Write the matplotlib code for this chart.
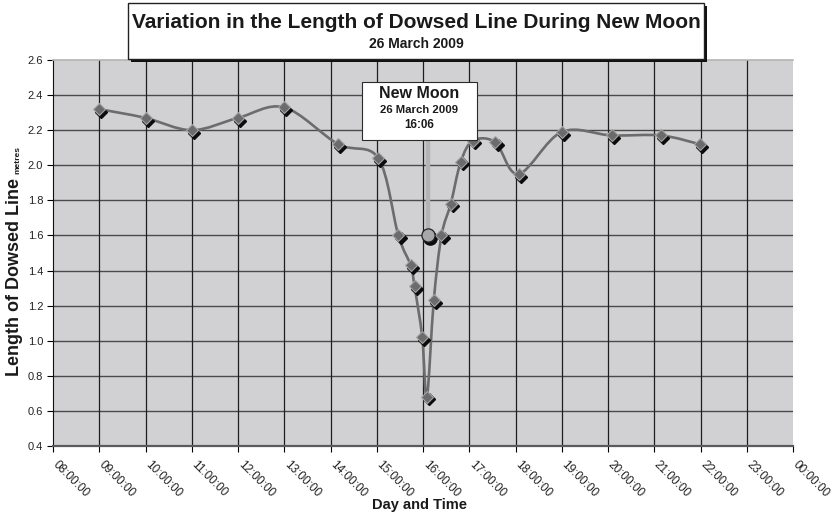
import matplotlib

matplotlib.use("Agg")
import matplotlib.pyplot as plt  # noqa: E402
import matplotlib.transforms as mtransforms  # noqa: E402
import numpy as np  # noqa: E402
from matplotlib.patches import PathPatch, Rectangle  # noqa: E402
from matplotlib.path import Path  # noqa: E402

plt.rcParams["font.family"] = ["Liberation Sans", "DejaVu Sans"]

# Dowsed line length readings through the day (clock time, metres)
times = ["09:00", "10:00", "11:00", "12:00", "13:00", "14:10", "15:02", "15:28",
         "15:44", "15:49", "15:59", "16:05", "16:14", "16:24", "16:36", "16:49",
         "17:05", "17:34", "18:04", "19:00", "20:05", "21:09", "21:59"]
lengths = [2.32, 2.27, 2.20, 2.27, 2.33, 2.12, 2.04, 1.60,
           1.43, 1.31, 1.02, 0.68, 1.23, 1.60, 1.78, 2.02,
           2.14, 2.13, 1.95, 2.19, 2.17, 2.17, 2.12]

new_moon_time = "16:06"
new_moon_level = 1.6

hour_ticks = list(range(8, 25))
hour_labels = [f"{h % 24:02d}:00:00" for h in hour_ticks]
y_ticks = [0.4, 0.6, 0.8, 1.0, 1.2, 1.4, 1.6, 1.8, 2.0, 2.2, 2.4, 2.6]


def to_hours(t):
    h, m = t.split(":")
    return int(h) + int(m) / 60.0


def smooth_path(x, y):
    """Catmull-Rom style Bezier path through the points (spreadsheet 'smoothed line')."""
    pts = np.column_stack([x, y])
    verts = [pts[0]]
    codes = [Path.MOVETO]
    n = len(pts)
    for i in range(n - 1):
        p0 = pts[max(i - 1, 0)]
        p1 = pts[i]
        p2 = pts[i + 1]
        p3 = pts[min(i + 2, n - 1)]
        c1 = p1 + (p2 - p0) / 6.0
        c2 = p2 - (p3 - p1) / 6.0
        verts += [c1, c2, p2]
        codes += [Path.CURVE4] * 3
    return Path(verts, codes)


W, H = 835, 514
fig = plt.figure(figsize=(W / 100, H / 100), dpi=100)
ax = fig.add_axes([53 / W, 1 - 446 / H, (793 - 53) / W, (446 - 60) / H])
ax.set_facecolor("#d1d1d3")

ax.set_xlim(8, 24)
ax.set_ylim(0.4, 2.6)
ax.set_xticks(hour_ticks)
ax.set_xticklabels([])
# slanted hour labels hang just right of each tick
label_tr = ax.get_xaxis_transform() + mtransforms.ScaledTranslation(
    6 / 100, -13 / 100, fig.dpi_scale_trans)
for h, lab in zip(hour_ticks, hour_labels):
    ax.text(h, 0, lab, transform=label_tr, rotation=-45, rotation_mode="anchor",
            ha="left", va="top", fontsize=8.5, color="#222222", clip_on=False)
ax.set_yticks(y_ticks)
ax.set_yticklabels([f"{v:.1f}" for v in y_ticks], fontsize=8, color="#222222")
ax.tick_params(axis="x", length=4, width=0.8, direction="out")
ax.tick_params(axis="y", length=4, width=0.8, pad=3, direction="out")

for v in y_ticks[1:-1]:
    ax.axhline(v, color="#4a4a4a", lw=1.0, zorder=1)
for h in hour_ticks[1:-1]:
    ax.axvline(h, color="#1e1e1e", lw=0.9, zorder=1)

ax.spines["right"].set_visible(False)
ax.spines["top"].set_color("#b4b4b4")
ax.spines["top"].set_linewidth(1.2)
ax.spines["left"].set_color("#111111")
ax.spines["left"].set_linewidth(0.8)
ax.spines["bottom"].set_color("#5a5a5a")
ax.spines["bottom"].set_linewidth(1.6)

x = np.array([to_hours(t) for t in times])
y = np.array(lengths)

ax.add_patch(PathPatch(smooth_path(x, y), facecolor="none", edgecolor="#6c6c6c",
                       lw=1.9, zorder=3, capstyle="round", joinstyle="round"))

shadow = mtransforms.offset_copy(ax.transData, fig=fig, x=2.2, y=-2.6, units="dots")
ax.plot(x, y, "D", ms=6.3, color="#0c0c0c", mec="#0c0c0c", transform=shadow, zorder=4)
ax.plot(x, y, "D", ms=6.6, color="#6b6b6b", mec="#a4a4a4", mew=0.8, zorder=5)

# New Moon marker with a pointer up to its label box
moon_x = to_hours(new_moon_time)
box_bottom, box_top = 2.144, 2.475
ax.plot([moon_x, moon_x], [new_moon_level, box_bottom], color="#b3b3b3", lw=3.2,
        zorder=4, solid_capstyle="butt")
ax.plot([moon_x], [new_moon_level], "o", ms=9.5, color="#0c0c0c", transform=shadow,
        zorder=4)
ax.plot([moon_x], [new_moon_level], "o", ms=9.5, color="#a7a7a7", mec="#222222", mew=0.9,
        zorder=5)

bx0, bx1 = 14.674, 17.158
ax.add_patch(Rectangle((bx0, box_bottom), bx1 - bx0, box_top - box_bottom,
                       facecolor="white", edgecolor="#2a2a2a", lw=0.8, zorder=6))
bcx = (bx0 + bx1) / 2
ax.text(bcx, 2.41, "New Moon", ha="center", va="center", fontsize=11.5,
        fontweight="bold", color="#1a1a1a", zorder=7)
ax.text(bcx, 2.315, "26 March 2009", ha="center", va="center", fontsize=8.2,
        fontweight="bold", color="#1a1a1a", zorder=7)
ax.text(bcx, 2.232, "16:06", ha="center", va="center", fontsize=8.4,
        fontweight="bold", color="#1a1a1a", zorder=7)

# Title box with drop shadow
tx0, tx1, ty0, ty1 = 128, 704, 3, 59
fig.add_artist(Rectangle((tx0 / W + 3 / W, 1 - (ty1 + 3) / H), (tx1 - tx0) / W,
                         (ty1 - ty0) / H, transform=fig.transFigure,
                         facecolor="#111111", edgecolor="none", zorder=9))
fig.add_artist(Rectangle((tx0 / W, 1 - ty1 / H), (tx1 - tx0) / W, (ty1 - ty0) / H,
                         transform=fig.transFigure, facecolor="white",
                         edgecolor="#222222", lw=1.0, zorder=10))
tcx = (tx0 + tx1) / 2 / W
fig.text(tcx, 1 - 22 / H, "Variation in the Length of Dowsed Line During New Moon",
         ha="center", va="center", fontsize=15, fontweight="bold", color="#1a1a1a",
         zorder=11)
fig.text(tcx, 1 - 44 / H, "26 March 2009", ha="center", va="center", fontsize=10,
         fontweight="bold", color="#1a1a1a", zorder=11)

fig.text(15 / W, 1 - 376 / H, "Length of Dowsed Line", rotation=90, ha="center",
         va="bottom", fontsize=13, fontweight="bold", color="#1a1a1a")
fig.text(18 / W, 1 - 174 / H, "metres", rotation=90, ha="center", va="bottom",
         fontsize=6, fontweight="bold", color="#1a1a1a")
fig.text(420 / W, 1 - 505 / H, "Day and Time", ha="center", va="center", fontsize=10.5,
         fontweight="bold", color="#1a1a1a")

fig.savefig("out.png", dpi=100)
